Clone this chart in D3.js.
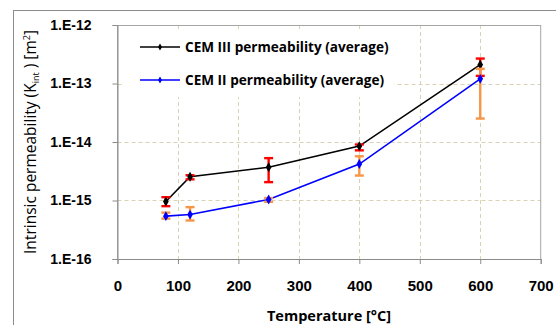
<!DOCTYPE html>
<html>
<head>
<meta charset="utf-8">
<script src="https://cdn.jsdelivr.net/npm/d3@7"></script>
<style>
  body { margin: 0; background: #fff; }
  svg { display: block; font-family: "Open Sans", "Liberation Sans", sans-serif; }
</style>
</head>
<body>
<svg id="chart" width="556" height="325"></svg>
<script>
// data
const temps = [80, 120, 250, 400, 600];
const cem3 = [9.6e-16, 2.55e-15, 3.7e-15, 8.5e-15, 2.1e-13];
const cem3Lo = [8.0e-16, 2.3e-15, 2.06e-15, 7.2e-15, 1.35e-13];
const cem3Hi = [1.14e-15, 2.7e-15, 5.3e-15, 9.05e-15, 2.67e-13];
const cem2 = [5.4e-16, 5.75e-16, 1.04e-15, 4.2e-15, 1.2e-13];
const cem2Lo = [4.9e-16, 4.55e-16, 0.95e-15, 2.67e-15, 2.52e-14];
const cem2Hi = [6.2e-16, 7.7e-16, 1.1e-15, 5.7e-15, 1.78e-13];
const xTicks = [0, 100, 200, 300, 400, 500, 600, 700];
const yTicks = [1e-16, 1e-15, 1e-14, 1e-13, 1e-12];
const yTickLabels = ['1.E-16', '1.E-15', '1.E-14', '1.E-13', '1.E-12'];
const legendNames = ['CEM III permeability (average)', 'CEM II permeability (average)'];

const svg = d3.select('#chart');
const m = { left: 117.5, top: 25, right: 540.7, bottom: 259 };

const x = d3.scaleLinear().domain([0, 700]).range([m.left, m.right]);
const y = d3.scaleLog().domain([1e-16, 1e-12]).range([m.bottom, m.top]);

// outer chart border
svg.append('rect')
	.attr('x', 13.5).attr('y', 10.5)
	.attr('width', 560).attr('height', 330)
	.attr('fill', 'none').attr('stroke', '#8c8c8c').attr('stroke-width', 1);

// grid
const grid = svg.append('g').attr('stroke', '#d9d3b5').attr('stroke-dasharray', '4,3').attr('stroke-width', 1);
grid.selectAll('line.h').data(yTicks.slice(1, -1)).enter().append('line')
	.attr('x1', m.left).attr('x2', m.right)
	.attr('y1', (d) => Math.round(y(d)) + 0.5).attr('y2', (d) => Math.round(y(d)) + 0.5);
grid.selectAll('line.v').data(xTicks.slice(1, -1)).enter().append('line')
	.attr('y1', m.top).attr('y2', m.bottom)
	.attr('x1', (d) => Math.round(x(d)) + 0.5).attr('x2', (d) => Math.round(x(d)) + 0.5);

// plot frame
svg.append('rect')
	.attr('x', m.left).attr('y', m.top + 0.5)
	.attr('width', m.right - m.left).attr('height', m.bottom - m.top)
	.attr('fill', 'none').attr('stroke', '#a6a6a6');

// legend box covers the grid
svg.append('rect')
	.attr('x', 124).attr('y', 30).attr('width', 270).attr('height', 67)
	.attr('fill', '#fff');

// axes
const xAxis = d3.axisBottom(x).tickValues(xTicks).tickSize(5).tickPadding(16);
const gx = svg.append('g').attr('transform', `translate(0,${m.bottom})`).call(xAxis);
gx.select('.domain').attr('stroke', '#8c8c8c');
gx.selectAll('.tick line').attr('stroke', '#8c8c8c');
gx.selectAll('.tick text').attr('font-size', 15).attr('font-weight', 'bold').attr('fill', '#000');

const yAxis = d3.axisLeft(y).tickValues(yTicks).tickFormat((d, i) => yTickLabels[i]).tickSize(5).tickPadding(21);
const gy = svg.append('g').attr('transform', `translate(${m.left},0)`).call(yAxis);
gy.select('.domain').attr('stroke', '#8c8c8c');
gy.selectAll('.tick line').attr('stroke', '#8c8c8c');
gy.selectAll('.tick text').attr('font-size', 14).attr('font-weight', 'bold').attr('fill', '#000');

// axis titles
svg.append('text')
	.attr('x', 329).attr('y', 321)
	.attr('text-anchor', 'middle').attr('font-size', 14.5).attr('font-weight', 'bold')
	.text('Temperature [°C]');

const yt = svg.append('text')
	.attr('transform', 'translate(36,142) rotate(-90)')
	.attr('text-anchor', 'middle').attr('font-size', 15.5);
yt.append('tspan').text('Intrinsic permeability (K');
yt.append('tspan').attr('font-size', 9).attr('dy', 3).text('int');
yt.append('tspan').attr('dy', -3).text(' ) [m');
yt.append('tspan').attr('font-size', 9).attr('dy', -6).text('2');
yt.append('tspan').attr('dy', 6).text(']');

// series
const series = [
	{ vals: cem3, lo: cem3Lo, hi: cem3Hi, color: '#000', err: '#ff0000' },
	{ vals: cem2, lo: cem2Lo, hi: cem2Hi, color: '#0000ff', err: '#f79646' }
];

const line = d3.line().x((d) => x(d[0])).y((d) => y(d[1]));
const diamond = d3.symbol().type(d3.symbolDiamond).size(28);

series.forEach((s) => {
	const pts = temps.map((t, i) => [t, s.vals[i], s.lo[i], s.hi[i]]);
	const g = svg.append('g');
	g.append('path')
		.datum(pts)
		.attr('d', line)
		.attr('fill', 'none')
		.attr('stroke', s.color)
		.attr('stroke-width', 1.6);
	const eb = g.selectAll('g.err').data(pts).enter().append('g')
		.attr('stroke', s.err).attr('stroke-width', 2.4);
	eb.append('line')
		.attr('x1', (d) => x(d[0])).attr('x2', (d) => x(d[0]))
		.attr('y1', (d) => y(d[2])).attr('y2', (d) => y(d[3]));
	eb.append('line')
		.attr('x1', (d) => x(d[0]) - 4.5).attr('x2', (d) => x(d[0]) + 4.5)
		.attr('y1', (d) => y(d[2])).attr('y2', (d) => y(d[2]));
	eb.append('line')
		.attr('x1', (d) => x(d[0]) - 4.5).attr('x2', (d) => x(d[0]) + 4.5)
		.attr('y1', (d) => y(d[3])).attr('y2', (d) => y(d[3]));
	g.selectAll('path.pt').data(pts).enter().append('path')
		.attr('class', 'pt')
		.attr('d', diamond)
		.attr('transform', (d) => `translate(${x(d[0])},${y(d[1])})`)
		.attr('fill', s.color);
});

// legend
const lg = svg.selectAll('g.legend').data(series).enter().append('g')
	.attr('class', 'legend')
	.attr('transform', (d, i) => `translate(140,${47 + i * 33})`);
lg.append('line')
	.attr('x1', 0).attr('x2', 40)
	.attr('stroke', (d) => d.color).attr('stroke-width', 1.6);
lg.append('path')
	.attr('d', d3.symbol().type(d3.symbolDiamond).size(14))
	.attr('transform', 'translate(20,0)')
	.attr('fill', (d) => d.color);
lg.append('text')
	.attr('x', 45).attr('dy', '0.35em')
	.attr('font-size', 13.6).attr('font-weight', 'bold')
	.text((d, i) => legendNames[i]);
</script>
</body>
</html>
